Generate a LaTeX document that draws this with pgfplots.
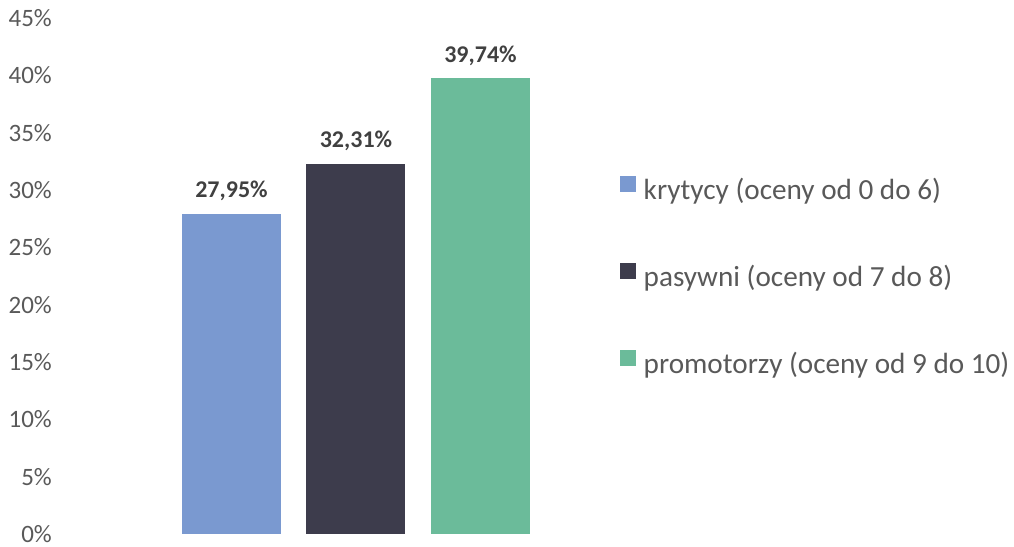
\documentclass[border=0pt]{standalone}
\usepackage{fontspec}
\setmainfont{Carlito}
\usepackage{pgfplots}
\pgfplotsset{compat=1.18}
\definecolor{cBlue}{HTML}{7A99D0}
\definecolor{cDark}{HTML}{3D3C4C}
\definecolor{cGreen}{HTML}{6BBB9A}
\definecolor{tickgray}{HTML}{595959}
\definecolor{labgray}{HTML}{404040}
\begin{document}
\begin{tikzpicture}[x=1pt,y=1pt]
\path[use as bounding box] (0,0) rectangle (1014,546);
\begin{axis}[
  at={(62pt,12pt)}, anchor=south west,
  scale only axis, width=538pt, height=516pt,
  xmin=-1.3614, xmax=2.96, ymin=0, ymax=45,
  enlargelimits=false, clip=false,
  axis line style={draw=none},
  major tick length=0pt,
  xtick=\empty,
  ytick={0,5,...,45},
  ybar, bar width=99pt, bar shift=0pt,
  /pgf/number format/assume math mode=true,
  yticklabel={\pgfmathprintnumber{\tick}\%},
  yticklabel style={font=\fontsize{25}{29}\selectfont, text=tickgray, anchor=east, inner sep=0pt, xshift=-10pt},
  nodes near coords={\pgfmathprintnumber[fixed,precision=2,fixed zerofill,use comma]{\pgfplotspointmeta}\%},
  every node near coord/.append style={font=\bfseries\fontsize{24}{28}\selectfont, text=labgray, anchor=base, inner sep=0pt, yshift=16pt},
  legend image code/.code={\fill[#1] (0pt,0pt) rectangle (16pt,16pt);},
  legend style={at={(1.0372,0.4962)}, anchor=west, draw=none, fill=none, inner sep=0pt,
    font=\fontsize{29.2}{34}\selectfont, text=tickgray, row sep=56.5pt, column sep=7.5pt,
    nodes={inner sep=0pt, text height=22pt, text depth=7pt}},
  legend cell align=left,
]
\addplot[fill=cBlue, draw=none] coordinates {(0,27.95)};
\addlegendentry{krytycy (oceny od 0 do 6)}
\addplot[fill=cDark, draw=none] coordinates {(1,32.31)};
\addlegendentry{pasywni (oceny od 7 do 8)}
\addplot[fill=cGreen, draw=none] coordinates {(2,39.74)};
\addlegendentry{promotorzy (oceny od 9 do 10)}
\end{axis}
\end{tikzpicture}
\end{document}
